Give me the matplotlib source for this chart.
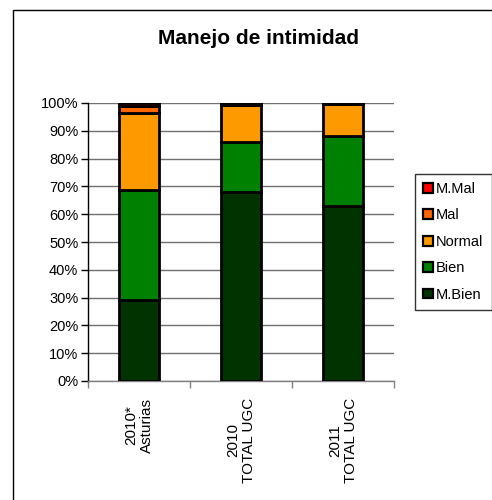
import numpy as np
import matplotlib
matplotlib.use("Agg")
import matplotlib.pyplot as plt
from matplotlib.patches import Rectangle, Patch
from matplotlib.ticker import FixedLocator, PercentFormatter

plt.rcParams['font.family'] = ['Liberation Sans', 'DejaVu Sans']

groups = ["2010*\nAsturias", "2010\nTOTAL UGC", "2011\nTOTAL UGC"]
categories = ["M.Bien", "Bien", "Normal", "Mal", "M.Mal"]
m_bien = [29.0, 68.0, 63.0]
bien = [39.8, 17.8, 25.0]
normal = [27.6, 13.6, 11.8]
mal = [2.6, 0.3, 0.1]
m_mal = [1.0, 0.3, 0.1]
colors = ["#003300", "#008000", "#FF9900", "#FF6600", "#FF0000"]

series = [m_bien, bien, normal, mal, m_mal]

fig = plt.figure(figsize=(4.92, 5.0), dpi=100)
fig.patch.set_facecolor("white")

# outer chart frame
fig.add_artist(Rectangle((13 / 492, -0.1), 1.2, 0.98 + 0.1, transform=fig.transFigure,
                         fill=False, edgecolor="black", linewidth=1.0))

ax = fig.add_axes([88 / 492, 119 / 500, 306 / 492, 278 / 500])

x = np.arange(len(groups))
bottom = np.zeros(len(groups))
for vals, col, name in zip(series, colors, categories):
    vals = np.array(vals)
    ax.bar(x, vals, bottom=bottom, width=0.4, color=col, edgecolor="black",
           linewidth=2.0, label=name, zorder=3)
    bottom += vals

ax.set_xlim(-0.5, len(groups) - 0.5)
ax.set_ylim(0, 100)
ax.set_yticks(np.arange(0, 101, 10))
ax.yaxis.set_major_formatter(PercentFormatter(decimals=0))
ax.yaxis.grid(True, color="#707070", linewidth=1.0, zorder=0)

ax.set_xticks(x)
ax.set_xticklabels(groups, rotation=90, multialignment="center", fontsize=11)
ax.tick_params(axis="x", length=0, pad=12)
ax.xaxis.set_minor_locator(FixedLocator(np.arange(-0.5, len(groups), 1.0)))
ax.tick_params(axis="x", which="minor", length=5, width=1, color="#808080", direction="out")
ax.tick_params(axis="y", labelsize=10.5, length=5, width=1, direction="out", pad=2)

for s in ["top", "right"]:
    ax.spines[s].set_visible(False)
ax.spines["left"].set_linewidth(1.0)
ax.spines["bottom"].set_color("#808080")
ax.spines["bottom"].set_linewidth(1.0)

fig.text(259 / 492, 1 - 38 / 500, "Manejo de intimidad", ha="center", va="center",
         fontsize=15, fontweight="bold")

handles = [Patch(facecolor=c, edgecolor="black", linewidth=1.6) for c in colors][::-1]
leg = fig.legend(handles, categories[::-1], loc="upper left",
                 bbox_to_anchor=(415 / 492, 1 - 174 / 500), fontsize=10.5,
                 frameon=True, fancybox=False, edgecolor="black",
                 handlelength=0.65, handleheight=0.65, handletextpad=0.25,
                 labelspacing=0.85, borderpad=0.55, borderaxespad=0)
leg.get_frame().set_linewidth(1.0)

fig.savefig("out.png", dpi=100)
